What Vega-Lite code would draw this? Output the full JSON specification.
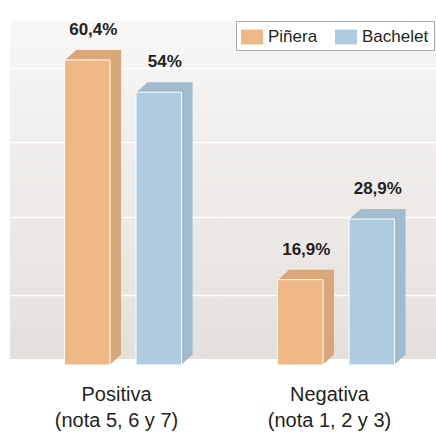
{
  "$schema": "https://vega.github.io/schema/vega-lite/v6.json",
  "padding": {"left": 10, "top": 20, "right": 0, "bottom": 0},
  "background": "#ffffff",
  "data": {"values": [
    {"category": "Positiva (nota 5, 6 y 7)", "candidate": "Piñera", "value": 60.4, "label": "60,4%"},
    {"category": "Positiva (nota 5, 6 y 7)", "candidate": "Bachelet", "value": 54, "label": "54%"},
    {"category": "Negativa (nota 1, 2 y 3)", "candidate": "Piñera", "value": 16.9, "label": "16,9%"},
    {"category": "Negativa (nota 1, 2 y 3)", "candidate": "Bachelet", "value": 28.9, "label": "28,9%"}
  ]},
  "facet": {"column": {"field": "category", "type": "nominal", "sort": ["Positiva (nota 5, 6 y 7)", "Negativa (nota 1, 2 y 3)"], "title": null,
    "header": {"labelOrient": "bottom", "labelExpr": "split(replace(datum.value, ' (', '|('), '|')", "labelFont": "Liberation Sans, Arial, sans-serif", "labelFontSize": 20, "labelColor": "#231f20", "labelLineHeight": 26, "labelBaseline": "alphabetic", "labelPadding": 35}}},
  "spacing": 0,
  "spec": {
    "width": 213,
    "height": 338,
    "encoding": {
      "x": {"field": "candidate", "type": "nominal", "sort": ["Piñera", "Bachelet"], "axis": null, "scale": {"paddingInner": 0.3636, "paddingOuter": 0.671, "align": 0.568}},
      "y": {"field": "value", "type": "quantitative", "scale": {"domain": [1.19, 68.1], "nice": false, "zero": false},
        "axis": {"values": [13.9, 29.3, 44.2, 58.8], "grid": true, "labels": false, "ticks": false, "domain": false, "title": null, "gridColor": "#ffffff", "gridWidth": 1.5, "gridOpacity": 1}}
    },
    "layer": [
      {"mark": {"type": "bar", "xOffset": 11, "yOffset": -10, "y2Offset": -10}, "encoding": {"y2": {"datum": 0}, "fill": {"field": "candidate", "type": "nominal", "scale": {"domain": ["Piñera", "Bachelet"], "range": ["#d9a779", "#a1bbcf"]}, "legend": null}}},
      {"mark": {"type": "bar", "xOffset": 9.9, "yOffset": -9, "y2Offset": -9}, "encoding": {"y2": {"datum": 0}, "fill": {"field": "candidate", "type": "nominal", "legend": null}}},
      {"mark": {"type": "bar", "xOffset": 8.8, "yOffset": -8, "y2Offset": -8}, "encoding": {"y2": {"datum": 0}, "fill": {"field": "candidate", "type": "nominal", "legend": null}}},
      {"mark": {"type": "bar", "xOffset": 7.7, "yOffset": -7, "y2Offset": -7}, "encoding": {"y2": {"datum": 0}, "fill": {"field": "candidate", "type": "nominal", "legend": null}}},
      {"mark": {"type": "bar", "xOffset": 6.6, "yOffset": -6, "y2Offset": -6}, "encoding": {"y2": {"datum": 0}, "fill": {"field": "candidate", "type": "nominal", "legend": null}}},
      {"mark": {"type": "bar", "xOffset": 5.5, "yOffset": -5, "y2Offset": -5}, "encoding": {"y2": {"datum": 0}, "fill": {"field": "candidate", "type": "nominal", "legend": null}}},
      {"mark": {"type": "bar", "xOffset": 4.4, "yOffset": -4, "y2Offset": -4}, "encoding": {"y2": {"datum": 0}, "fill": {"field": "candidate", "type": "nominal", "legend": null}}},
      {"mark": {"type": "bar", "xOffset": 3.3, "yOffset": -3, "y2Offset": -3}, "encoding": {"y2": {"datum": 0}, "fill": {"field": "candidate", "type": "nominal", "legend": null}}},
      {"mark": {"type": "bar", "xOffset": 2.2, "yOffset": -2, "y2Offset": -2}, "encoding": {"y2": {"datum": 0}, "fill": {"field": "candidate", "type": "nominal", "legend": null}}},
      {"mark": {"type": "bar", "xOffset": 1.1, "yOffset": -1, "y2Offset": -1}, "encoding": {"y2": {"datum": 0}, "fill": {"field": "candidate", "type": "nominal", "legend": null}}},
      {"mark": {"type": "bar", "stroke": "#ffffff", "strokeWidth": 1}, "encoding": {"y2": {"datum": 0}, "color": {"field": "candidate", "type": "nominal", "sort": ["Piñera", "Bachelet"], "scale": {"range": ["#efb785", "#aecbe1"]},
        "legend": {"orient": "none", "legendX": 226, "legendY": 0, "direction": "horizontal", "title": null, "symbolType": "M-1,-0.68H1V0.68H-1Z", "symbolSize": 484, "symbolStrokeWidth": 0, "labelFont": "Liberation Sans, Arial, sans-serif", "labelFontSize": 17, "labelColor": "#231f20", "labelOffset": 5, "columnPadding": 17, "padding": 5, "strokeColor": "#a8a8a8", "fillColor": "#ffffff"}}}},
      {"mark": {"type": "text", "dx": 6, "dy": -25, "baseline": "alphabetic", "fontWeight": "bold", "fontSize": 17, "font": "Liberation Sans, Arial, sans-serif", "color": "#231f20"}, "encoding": {"text": {"field": "label", "type": "nominal"}}}
    ]
  },
  "config": {
    "view": {"stroke": null, "fill": {"gradient": "linear", "x1": 0, "y1": 0, "x2": 0, "y2": 1, "stops": [{"offset": 0, "color": "#f8f7f6"}, {"offset": 1, "color": "#e3dfdc"}]}}
  }
}
